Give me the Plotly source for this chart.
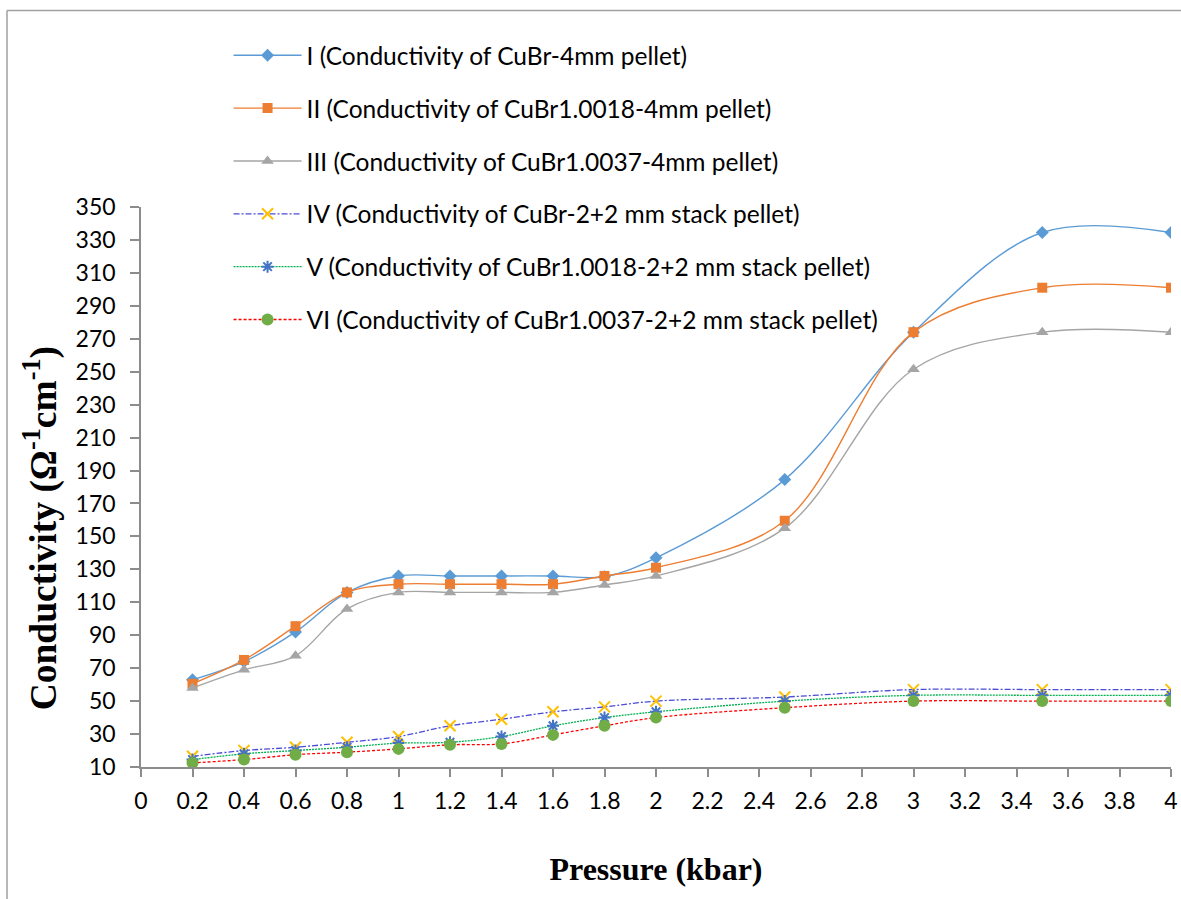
import plotly.graph_objects as go

pressure = [0.2, 0.4, 0.6, 0.8, 1.0, 1.2, 1.4, 1.6, 1.8, 2.0, 2.5, 3.0, 3.5, 4.0]

cond_I = [63, 74, 92, 116, 126, 126, 126, 126, 125.5, 137, 184.5, 274, 334.5, 334.5]
cond_II = [60.5, 75, 95.5, 116, 121, 121, 121, 121, 126, 131, 159.5, 274, 301, 301]
cond_III = [58, 69, 77.5, 106, 116, 116, 116, 116, 120.5, 126, 155, 251.5, 274, 274]
cond_IV = [16.5, 20, 22, 25, 28.5, 35, 39, 43.5, 46.5, 50, 52.5, 57, 57, 57]
cond_V = [14.5, 18, 20, 22, 24.5, 25, 28.5, 35, 40, 43.5, 50, 53.5, 53.5, 53.5]
cond_VI = [12.5, 14.5, 17.5, 19, 21, 23.5, 24, 29.5, 35, 40, 46, 50, 50, 50]

names = [
    "I (Conductivity of CuBr-4mm pellet)",
    "II (Conductivity of CuBr1.0018-4mm pellet)",
    "III (Conductivity of CuBr1.0037-4mm pellet)",
    "IV (Conductivity of CuBr-2+2 mm stack pellet)",
    "V (Conductivity of CuBr1.0018-2+2 mm stack pellet)",
    "VI (Conductivity of CuBr1.0037-2+2 mm stack pellet)",
]

y_ticks = list(range(10, 351, 20))

styles = [
    dict(line=dict(color="#5B9BD5", width=1.4),
         marker=dict(symbol="diamond", size=10, color="#5B9BD5")),
    dict(line=dict(color="#ED7D31", width=1.4),
         marker=dict(symbol="square", size=10, color="#ED7D31")),
    dict(line=dict(color="#A5A5A5", width=1.4),
         marker=dict(symbol="triangle-up", size=11, color="#A5A5A5")),
    dict(line=dict(color="#4B4BD8", width=1.3, dash="6px,2px,2px,2px"),
         marker=dict(symbol="x-thin-open", size=11, color="#FFC000",
                     line=dict(color="#FFC000", width=2))),
    dict(line=dict(color="#00B050", width=1.3, dash="2px,1px"),
         marker=dict(symbol="asterisk-open", size=10, color="#4472C4",
                     line=dict(color="#4472C4", width=2))),
    dict(line=dict(color="#FF0000", width=1.3, dash="3px,2px"),
         marker=dict(symbol="circle", size=12, color="#70AD47")),
]

series = [cond_I, cond_II, cond_III, cond_IV, cond_V, cond_VI]

fig = go.Figure()
for i, (nm, vals, st) in enumerate(zip(names, series, styles)):
    line = dict(st["line"])
    line["shape"] = "spline"
    line["smoothing"] = 1.0
    fig.add_trace(go.Scatter(
        x=pressure, y=vals, name=nm, mode="lines+markers",
        line=line, marker=st["marker"], legendgroup=f"g{i}",
    ))

serif = "'Liberation Serif', 'Times New Roman', serif"
border = dict(color="#A0A0A0", width=1.5)

fig.update_layout(
    width=1181, height=899,
    margin=dict(l=141, r=10, t=207, b=132, autoexpand=False),
    paper_bgcolor="white", plot_bgcolor="white",
    font=dict(family="Lato, 'Open Sans', sans-serif", size=23, color="black"),
    showlegend=True,
    legend=dict(
        x=0.085, y=1.311, xanchor="left", yanchor="top",
        bgcolor="rgba(0,0,0,0)", font=dict(size=24.5, color="black"),
        tracegroupgap=18, itemwidth=68,
    ),
    xaxis=dict(
        range=[0, 4], dtick=0.2, tick0=0, showgrid=False, zeroline=False,
        automargin=False,
        showline=True, linecolor="#8C8C8C", linewidth=1.5,
        ticks="outside", ticklen=8, tickcolor="#8C8C8C", tickwidth=1.5,
        ticklabelstandoff=5,
        tickfont=dict(size=23, color="black"),
        title=dict(text="<b>Pressure (kbar)</b>", standoff=44,
                   font=dict(family=serif, size=32, color="black")),
    ),
    yaxis=dict(
        range=[10, 350], tickvals=y_ticks, showgrid=False, zeroline=False,
        automargin=False,
        showline=True, linecolor="#8C8C8C", linewidth=1.5,
        ticks="outside", ticklen=9, tickcolor="#8C8C8C", tickwidth=1.5,
        ticklabelstandoff=10,
        tickfont=dict(size=23, color="black"),
    ),
    annotations=[
        dict(
            text="<b>Conductivity (Ω<sup>-1</sup>cm<sup>-1</sup>)</b>",
            xref="paper", yref="paper", x=-0.0969, y=0.4265,
            xanchor="center", yanchor="middle", textangle=-90, showarrow=False,
            font=dict(family=serif, size=37.5, color="black"),
        )
    ],
    shapes=[
        dict(type="line", xref="paper", yref="paper",
             x0=-0.1301, x1=-0.1301, y0=-0.5, y1=1.3509,
             line=border, layer="below"),
        dict(type="line", xref="paper", yref="paper",
             x0=-0.1301, x1=1.2, y0=1.3509, y1=1.3509,
             line=border, layer="below"),
    ],
)

fig.write_html(
    "out.html",
    config={"displayModeBar": False},
    post_script="document.body.style.margin='0';document.body.style.overflow='hidden';",
)
